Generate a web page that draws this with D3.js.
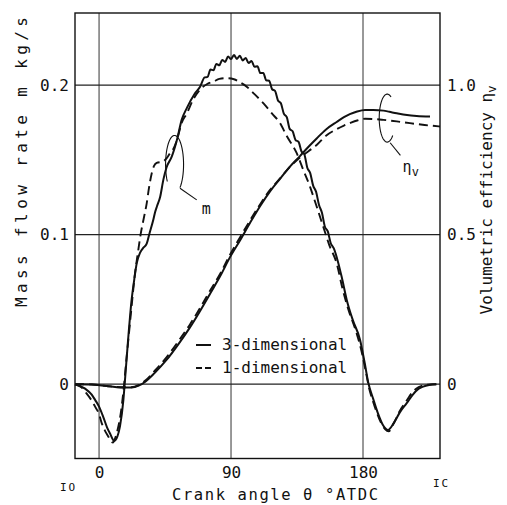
<!DOCTYPE html>
<html><head><meta charset="utf-8">
<script src="https://cdn.jsdelivr.net/npm/d3@7"></script>
<style>
html,body{margin:0;padding:0;background:#fff;}
svg{display:block;}
text{font-family:"DejaVu Sans Mono","Liberation Mono",monospace;fill:#111;}
</style></head>
<body>
<svg id="c" width="507" height="505"></svg>
<script>
// ---- data (crank angle in deg ATDC) ----
const massTheta3D = [-16.4,-9.5,-5,-2.7,0,2.9,5.5,7.5,10.4,12.5,14.3,16.6,17.7,19.8,22.2,24,25.7,28,30,32.5,34.3,37,38.2,39.5,41.6,43.9,46,49.5,53,56.4,60,65,68.9,72,74,76,78,80,82,84,86,88,90,92,94,96,98,100,102,104,106,108,110,112,114,116,118,120,122,124,126,128,130,132,134,136,138,140,142,144,146,148,150,152,154,156,158,160,165.4,168.9,173,178,181,183.6,187,190,194,197,201,205,209.8,214,218,221,225,230];
const mass3D      = [0,-0.003,-0.007,-0.0105,-0.015,-0.022,-0.029,-0.033,-0.038,-0.035,-0.028,-0.0105,0.003,0.0296,0.0564,0.07,0.081,0.088,0.091,0.094,0.1005,0.110,0.115,0.119,0.125,0.137,0.145,0.152,0.163,0.177,0.185,0.194,0.199,0.2052,0.2056,0.2105,0.21,0.2142,0.2133,0.2169,0.2156,0.2192,0.2175,0.2202,0.2176,0.2197,0.2166,0.2182,0.2148,0.2162,0.2123,0.2127,0.2081,0.2082,0.2033,0.203,0.1973,0.1962,0.1898,0.1879,0.181,0.1787,0.1708,0.1692,0.1633,0.1622,0.1558,0.1537,0.1448,0.1412,0.1328,0.1287,0.1198,0.1147,0.1053,0.1022,0.0943,0.091,0.072,0.0564,0.043,0.0296,0.015,0.001,-0.01,-0.019,-0.028,-0.0306,-0.026,-0.019,-0.0127,-0.007,-0.003,-0.0016,-0.0005,0];

const massTheta1D = [-16.4,-12,-9.5,-5,-2.7,0,1.8,4,6.3,8,9.5,11,13,15,16.8,18.5,20,22,24.5,26.5,28.4,30.5,32.5,34,35.9,37.5,39.3,43.8,46,48.4,51,53,56.4,59.8,64,68.9,74,78,82,87,92,96,100.7,106,112,118,123.4,128,134.8,139,143.9,148,153,157,162,166,170,175,179,182,184,187,191,195,197.5,201,205,209.8,214,218,223,230];
const mass1D      = [0,-0.002,-0.005,-0.011,-0.015,-0.02,-0.026,-0.031,-0.035,-0.038,-0.039,-0.036,-0.029,-0.018,-0.003,0.015,0.03,0.05,0.074,0.088,0.1005,0.111,0.121,0.131,0.141,0.146,0.148,0.149,0.151,0.1545,0.158,0.163,0.175,0.181,0.19,0.197,0.201,0.2024,0.2042,0.2047,0.204,0.202,0.199,0.194,0.188,0.181,0.1746,0.166,0.1545,0.144,0.132,0.12,0.105,0.093,0.081,0.064,0.05,0.036,0.022,0.008,-0.002,-0.012,-0.023,-0.03,-0.0315,-0.026,-0.018,-0.011,-0.005,-0.002,-0.0005,0];

const etaTheta3D = [-16.4,-5,5,15,22,27,32,38,46,55,62,68.9,76,83,89.3,96,103,110,116.6,123.4,130,137,143,148.4,155,162,167,171,176,181.4,187,193.9,198,203,210,216.6,225.7];
const eta3D      = [0,-0.001,-0.006,-0.011,-0.011,-0.005,0.01,0.038,0.081,0.14,0.19,0.245,0.305,0.365,0.425,0.48,0.54,0.597,0.645,0.687,0.727,0.763,0.795,0.822,0.853,0.877,0.893,0.903,0.912,0.917,0.917,0.915,0.911,0.906,0.9,0.897,0.895];

const etaTheta1D = [-16.4,-5,5,15,22,27,32,38,46,55,62,68.9,76,83,89.3,96,103,110,116.6,123.4,130,137,143,148.4,155,162,167,171,176,181.4,187,193.9,203,212,222,232.5];
const eta1D      = [0,-0.001,-0.006,-0.01,-0.01,-0.003,0.014,0.045,0.09,0.15,0.2,0.255,0.315,0.373,0.433,0.49,0.548,0.603,0.65,0.688,0.726,0.758,0.78,0.8,0.832,0.853,0.865,0.873,0.882,0.888,0.887,0.884,0.879,0.873,0.867,0.862];

const xTicks = [0, 90, 180];
const yTicksLeft = [0, 0.1, 0.2];
const yTickLabelsLeft = ["0", "0.1", "0.2"];
const yTicksRight = [0, 0.5, 1.0];
const yTickLabelsRight = ["0", "0.5", "1.0"];
const legendLabels = ["3-dimensional", "1-dimensional"];

// ---- layout ----
const L = 75, R = 440, T = 13, B = 458.5;
const svg = d3.select("#c");
const x = d3.scaleLinear().domain([-16.4, 232.5]).range([L, R]);
const y = d3.scaleLinear().domain([-0.0497, 0.2483]).range([B, T]);
const yR = d3.scaleLinear().domain([-0.0497*5, 0.2483*5]).range([B, T]);

const ink = "#111";

// grid
svg.append("g").selectAll("line").data(xTicks).join("line")
  .attr("x1", d => x(d)).attr("x2", d => x(d)).attr("y1", T).attr("y2", B)
  .attr("stroke", "#333").attr("stroke-width", 1);
svg.append("g").selectAll("line").data(yTicksLeft).join("line")
  .attr("x1", L).attr("x2", R).attr("y1", d => y(d)).attr("y2", d => y(d))
  .attr("stroke", "#222").attr("stroke-width", 1.2);

// frame
svg.append("rect").attr("x", L).attr("y", T).attr("width", R - L).attr("height", B - T)
  .attr("fill", "none").attr("stroke", ink).attr("stroke-width", 1.4);

// axes (labels only, via d3 axes)
const axL = d3.axisLeft(y).tickValues(yTicksLeft).tickFormat((d,i) => yTickLabelsLeft[i]).tickSize(0).tickPadding(6);
const gL = svg.append("g").attr("transform", `translate(${L},0)`).call(axL);
const axR = d3.axisRight(yR).tickValues(yTicksRight).tickFormat((d,i) => yTickLabelsRight[i]).tickSize(0).tickPadding(7);
const gR = svg.append("g").attr("transform", `translate(${R},0)`).call(axR);
const axB = d3.axisBottom(x).tickValues(xTicks).tickFormat(d3.format("d")).tickSize(0).tickPadding(8);
const gB = svg.append("g").attr("transform", `translate(0,${B})`).call(axB);
[gL, gR, gB].forEach(g => {
  g.select(".domain").remove();
  g.selectAll("text").attr("font-size", 16).attr("fill", ink)
   .attr("font-family", '"DejaVu Sans Mono", monospace');
});

// curves
const line = (xs, ys, sc) => d3.line().x((d,i) => x(xs[i])).y((d,i) => sc(ys[i])).curve(d3.curveMonotoneX)(ys);
svg.append("path").attr("d", line(massTheta3D, mass3D, y)).attr("fill", "none").attr("stroke", ink).attr("stroke-width", 2).attr("stroke-linejoin", "round");
svg.append("path").attr("d", line(massTheta1D, mass1D, y)).attr("fill", "none").attr("stroke", ink).attr("stroke-width", 1.9).attr("stroke-dasharray", "9,5");
svg.append("path").attr("d", line(etaTheta3D, eta3D, yR)).attr("fill", "none").attr("stroke", ink).attr("stroke-width", 2);
svg.append("path").attr("d", line(etaTheta1D, eta1D, yR)).attr("fill", "none").attr("stroke", ink).attr("stroke-width", 1.9).attr("stroke-dasharray", "9,5");

// annotation: m lasso
const mAnno = {theta: 51.5, val: 0.147, lt: [55.2, 0.1311], lt2: [66.6, 0.1233], label: [70, 0.114]};
{
  const cx = x(mAnno.theta), cy = y(mAnno.val);
  const arc = d3.path();
  const rx = 9, ry = 29;
  const a0 = -2.2, a1 = 2.5;
  for (let k = 0; k <= 40; k++) {
    const a = a0 + (a1 - a0) * k / 40;
    const px = cx + rx * Math.sin(a), py = cy - ry * Math.cos(a);
    if (k === 0) arc.moveTo(px, py); else arc.lineTo(px, py);
  }
  svg.append("path").attr("d", arc.toString()).attr("fill", "none").attr("stroke", ink).attr("stroke-width", 1.1);
  svg.append("line").attr("x1", x(mAnno.lt[0])).attr("y1", y(mAnno.lt[1])).attr("x2", x(mAnno.lt2[0])).attr("y2", y(mAnno.lt2[1]))
    .attr("stroke", ink).attr("stroke-width", 1.1);
  svg.append("text").attr("x", x(mAnno.label[0])).attr("y", y(mAnno.label[1])).attr("font-size", 15).text("m");
}
// annotation: eta lasso
const eAnno = {theta: 196.5, val: 0.178, lt: [198.5, 0.1615], lt2: [205.5, 0.1530], label: [207, 0.142]};
{
  const cx = x(eAnno.theta), cy = y(eAnno.val);
  const arc = d3.path();
  const rx = 8, ry = 24;
  const a0 = 0.5, a1 = -3.9;
  for (let k = 0; k <= 40; k++) {
    const a = a0 + (a1 - a0) * k / 40;
    const px = cx + rx * Math.sin(a), py = cy - ry * Math.cos(a);
    if (k === 0) arc.moveTo(px, py); else arc.lineTo(px, py);
  }
  svg.append("path").attr("d", arc.toString()).attr("fill", "none").attr("stroke", ink).attr("stroke-width", 1.1);
  svg.append("line").attr("x1", x(eAnno.lt[0])).attr("y1", y(eAnno.lt[1])).attr("x2", x(eAnno.lt2[0])).attr("y2", y(eAnno.lt2[1]))
    .attr("stroke", ink).attr("stroke-width", 1.1);
  const t = svg.append("text").attr("x", x(eAnno.label[0])).attr("y", y(eAnno.label[1])).attr("font-size", 15);
  t.append("tspan").text("η");
  t.append("tspan").attr("font-size", 12).attr("dy", 4).text("v");
}

// legend
const lg = svg.append("g");
legendLabels.forEach((lab, i) => {
  const yy = 345 + i * 23;
  lg.append("line").attr("x1", 196).attr("x2", 211).attr("y1", yy).attr("y2", yy)
    .attr("stroke", ink).attr("stroke-width", 2).attr("stroke-dasharray", i === 0 ? null : "6,3");
  lg.append("text").attr("x", 222).attr("y", yy + 5).attr("font-size", 16).text(lab);
});

// axis titles
svg.append("text").attr("transform", "translate(27,162) rotate(-90)").attr("text-anchor", "middle")
  .attr("font-size", 16).attr("textLength", 290).attr("lengthAdjust", "spacing")
  .text("Mass flow rate  m  kg/s");
const rt = svg.append("text").attr("transform", "translate(492,200) rotate(-90)").attr("text-anchor", "middle")
  .attr("font-size", 16);
rt.append("tspan").text("Volumetric efficiency  η");
rt.append("tspan").attr("font-size", 12).attr("dy", 4).text("v");
svg.append("text").attr("x", 275).attr("y", 500).attr("text-anchor", "middle")
  .attr("font-size", 15.5).attr("textLength", 206).attr("lengthAdjust", "spacing")
  .text("Crank angle  θ  °ATDC");
svg.append("text").attr("x", 60).attr("y", 491).attr("font-size", 11).attr("font-family", '"Liberation Serif", serif').attr("letter-spacing", 2).text("IO");
svg.append("text").attr("x", 433).attr("y", 487).attr("font-size", 11).attr("font-family", '"Liberation Serif", serif').attr("letter-spacing", 2).text("IC");
</script>
</body></html>
